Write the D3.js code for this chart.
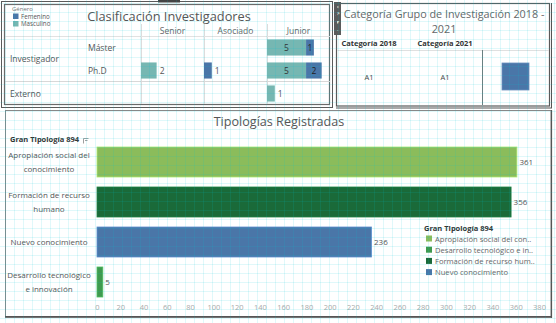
<!DOCTYPE html>
<html><head><meta charset="utf-8">
<script src="https://cdn.jsdelivr.net/npm/d3@7/dist/d3.min.js"></script>
<style>
html,body{margin:0;padding:0;background:#fff;}
svg{display:block;font-family:"Open Sans",sans-serif;}
</style></head>
<body><svg id="c" width="556" height="323"></svg>
<script>
// ---------- DATA ----------
const clasColumns = ["Senior", "Asociado", "Junior"];
const clasRowGroups = ["Investigador", "Investigador", "Externo"];
const clasRowSubs = ["Máster", "Ph.D", ""];
const masculino = [[0, 0, 5], [2, 0, 5], [0, 0, 1]];
const femenino  = [[0, 0, 1], [0, 1, 2], [0, 0, 0]];
const generoLabels = ["Femenino", "Masculino"];

const catHeaders = ["Categoría 2018", "Categoría 2021"];
const catValues = ["A1", "A1"];

const tipCategories = ["Apropiación social del conocimiento", "Formación de recurso humano", "Nuevo conocimiento", "Desarrollo tecnológico e innovación"];
const tipLabelLines = [["Apropiación social del", "conocimiento"], ["Formación de recurso", "humano"], ["Nuevo conocimiento"], ["Desarrollo tecnológico", "e innovación"]];
const tipValues = [361, 356, 236, 5];
const tipTicks = d3.range(0, 381, 20);
const legendNames = ["Apropiación social del con..", "Desarrollo tecnológico e in..", "Formación de recurso hum..", "Nuevo conocimiento"];
const legendKeys = ["Apropiación social del conocimiento", "Desarrollo tecnológico e innovación", "Formación de recurso humano", "Nuevo conocimiento"];

// ---------- STYLE ----------
const C_FEM = "#4a76a8", C_MAS = "#76b7b2";
const tipColor = d3.scaleOrdinal()
  .domain(["Apropiación social del conocimiento", "Desarrollo tecnológico e innovación", "Formación de recurso humano", "Nuevo conocimiento"])
  .range(["#8bbc5b", "#3f9a4f", "#1a6a39", "#4a76a8"]);

const svg = d3.select("#c");
const W = 556, H = 323;
svg.append("rect").attr("width", W).attr("height", H).attr("fill", "#fff");

// ---------- PANEL 1: Clasificación Investigadores ----------
const p1 = svg.append("g");
p1.append("rect").attr("x", 1.5).attr("y", 1.5).attr("width", 331).attr("height", 106).attr("fill", "none").attr("stroke", "#5a5a5a").attr("stroke-width", 1);
p1.append("rect").attr("x", 4.5).attr("y", 4.5).attr("width", 325).attr("height", 100).attr("fill", "none").attr("stroke", "#6a6a6a").attr("stroke-width", 1.2);
p1.append("rect").attr("x", 158).attr("y", 0).attr("width", 22).attr("height", 2.5).attr("fill", "#444");

// legend
p1.append("text").attr("x", 12).attr("y", 11).attr("font-size", 6).attr("fill", "#777").text("Género");
[C_FEM, C_MAS].forEach((c, i) => {
  p1.append("rect").attr("x", 13).attr("y", 13.5 + i * 7.5).attr("width", 5.5).attr("height", 5.5).attr("fill", c);
  p1.append("text").attr("x", 21).attr("y", 18.5 + i * 7.5).attr("font-size", 6.2).attr("fill", "#555").text(generoLabels[i]);
});
p1.append("text").attr("x", 169).attr("y", 21).attr("text-anchor", "middle").attr("font-size", 12.8).attr("fill", "#555").text("Clasificación Investigadores");

const colBand = d3.scaleBand().domain(clasColumns).range([141, 330]);
const rowBand = d3.scaleBand().domain(d3.range(3)).range([36, 105]).paddingInner(0.3).paddingOuter(0.15);
const unitX = d3.scaleLinear().domain([0, 8]).range([0, 62.5]);

clasColumns.forEach(c => {
  p1.append("line").attr("x1", colBand(c) + 0.5).attr("x2", colBand(c) + 0.5).attr("y1", 24).attr("y2", 104).attr("stroke", "#dcdcdc");
});
p1.append("line").attr("x1", 5).attr("x2", 330).attr("y1", 36.5).attr("y2", 36.5).attr("stroke", "#e2e2e2");
p1.append("line").attr("x1", 5).attr("x2", 330).attr("y1", 81.5).attr("y2", 81.5).attr("stroke", "#d8d8d8");

clasColumns.forEach(c => {
  p1.append("text").attr("x", colBand(c) + colBand.bandwidth() / 2).attr("y", 34).attr("text-anchor", "middle").attr("font-size", 8.5).attr("fill", "#666").text(c);
});
const rc = i => rowBand(i) + rowBand.bandwidth() / 2;
p1.append("text").attr("x", 10).attr("y", (rc(0) + rc(1)) / 2 + 3).attr("font-size", 8.5).attr("fill", "#555").text(clasRowGroups[0]);
p1.append("text").attr("x", 10).attr("y", rc(2) + 3).attr("font-size", 8.5).attr("fill", "#555").text(clasRowGroups[2]);
[0, 1].forEach(i => p1.append("text").attr("x", 88).attr("y", rc(i) + 3).attr("font-size", 8.5).attr("fill", "#555").text(clasRowSubs[i]));

d3.range(3).forEach(r => {
  clasColumns.forEach((c, ci) => {
    const m = masculino[r][ci], f = femenino[r][ci];
    const x0 = colBand(c), y = rowBand(r), h = rowBand.bandwidth();
    if (m > 0) {
      p1.append("rect").attr("x", x0).attr("y", y).attr("width", unitX(m)).attr("height", h).attr("fill", C_MAS);
    }
    if (f > 0) {
      p1.append("rect").attr("x", x0 + unitX(m)).attr("y", y).attr("width", unitX(f)).attr("height", h).attr("fill", C_FEM);
    }
    const total = m + f;
    if (total === 0) return;
    if (m >= 5) {
      p1.append("text").attr("x", x0 + unitX(m) / 2).attr("y", y + h / 2 + 3).attr("text-anchor", "middle").attr("font-size", 8.5).attr("fill", "#333").text(m);
      if (f > 0) p1.append("text").attr("x", x0 + unitX(m) + unitX(f) / 2).attr("y", y + h / 2 + 3).attr("text-anchor", "middle").attr("font-size", 8.5).attr("fill", "#222").text(f);
    } else {
      p1.append("text").attr("x", x0 + unitX(total) + 3).attr("y", y + h / 2 + 3).attr("font-size", 8.5).attr("fill", "#555").text(total);
    }
  });
});

// toolbar
const tb = svg.append("g");
tb.append("rect").attr("x", 334).attr("y", 2).attr("width", 7).attr("height", 33).attr("fill", "#5b5b5b");
["×", "↗", "▾", "-"].forEach((g, i) => {
  tb.append("text").attr("x", 337.5).attr("y", 8.5 + i * 7.8).attr("text-anchor", "middle").attr("font-size", 5.5).attr("fill", "#eee").text(g);
});

// ---------- PANEL 2: Categoría ----------
const p2 = svg.append("g");
p2.append("rect").attr("x", 336.5).attr("y", 3.5).attr("width", 213).attr("height", 102.5).attr("fill", "none").attr("stroke", "#5a5a5a").attr("stroke-width", 1.2);
p2.append("line").attr("x1", 336).attr("x2", 552).attr("y1", 108).attr("y2", 108).attr("stroke", "#555").attr("stroke-width", 1.2);
p2.append("line").attr("x1", 551.5).attr("x2", 551.5).attr("y1", 3).attr("y2", 108).attr("stroke", "#555").attr("stroke-width", 1);
p2.append("text").attr("x", 444).attr("y", 18).attr("text-anchor", "middle").attr("font-size", 10.8).attr("fill", "#666").text("Categoría Grupo de Investigación 2018 -");
p2.append("text").attr("x", 444).attr("y", 33).attr("text-anchor", "middle").attr("font-size", 10.8).attr("fill", "#666").text("2021");
const catX = d3.scalePoint().domain(catHeaders).range([369, 445]);
catHeaders.forEach((h, i) => {
  p2.append("text").attr("x", catX(h)).attr("y", 46).attr("text-anchor", "middle").attr("font-size", 7.5).attr("font-weight", "bold").attr("fill", "#333").text(h);
  p2.append("text").attr("x", catX(h)).attr("y", 80).attr("text-anchor", "middle").attr("font-size", 7.5).attr("fill", "#444").text(catValues[i]);
});
p2.append("line").attr("x1", 337).attr("x2", 549).attr("y1", 50.5).attr("y2", 50.5).attr("stroke", "#e0e0e0");
p2.append("line").attr("x1", 482.5).attr("x2", 482.5).attr("y1", 50).attr("y2", 105).attr("stroke", "#777");
p2.append("rect").attr("x", 502).attr("y", 63).attr("width", 27).attr("height", 27).attr("fill", C_FEM).attr("stroke", "#6b91bd").attr("stroke-width", 0.8);

// ---------- PANEL 3: Tipologías ----------
const p3 = svg.append("g");
p3.append("rect").attr("x", 5.5).attr("y", 110.5).attr("width", 545.5).attr("height", 206).attr("fill", "none").attr("stroke", "#888").attr("stroke-width", 1);
p3.append("line").attr("x1", 5).attr("x2", 552).attr("y1", 317).attr("y2", 317).attr("stroke", "#444").attr("stroke-width", 1.5);
p3.append("line").attr("x1", 551.5).attr("x2", 551.5).attr("y1", 110).attr("y2", 318).attr("stroke", "#555").attr("stroke-width", 1.2);
p3.append("text").attr("x", 279).attr("y", 126).attr("text-anchor", "middle").attr("font-size", 12.6).attr("fill", "#555").text("Tipologías Registradas");
p3.append("text").attr("x", 10).attr("y", 142).attr("font-size", 7.5).attr("font-weight", "bold").attr("fill", "#333").text("Gran Tipología 894");
p3.append("path").attr("d", "M83.5 138.5h5M83.5 138.5v5M85 140.5h2.5").attr("stroke", "#888").attr("stroke-width", 0.8).attr("fill", "none");

const x = d3.scaleLinear().domain([0, 380]).range([97, 539]);
const y = d3.scaleBand().domain(tipCategories).range([142, 302]).paddingInner(0.25).paddingOuter(0.125);

p3.selectAll("rect.bar").data(tipCategories).join("rect").attr("class", "bar")
  .attr("x", x(0)).attr("y", d => y(d))
  .attr("width", (d, i) => x(tipValues[i]) - x(0)).attr("height", y.bandwidth())
  .attr("fill", d => tipColor(d))
  .attr("stroke", d => d3.color(tipColor(d)).brighter(0.6)).attr("stroke-width", 0.8);
p3.selectAll("text.val").data(tipCategories).join("text").attr("class", "val")
  .attr("x", (d, i) => x(tipValues[i]) + 2.5).attr("y", d => y(d) + y.bandwidth() / 2 + 3)
  .attr("font-size", 8).attr("fill", "#555").text((d, i) => tipValues[i]);
tipCategories.forEach((c, i) => {
  const lines = tipLabelLines[i];
  const cy = y(c) + y.bandwidth() / 2;
  lines.forEach((l, j) => {
    p3.append("text").attr("x", 49).attr("y", cy + 3 + (j - (lines.length - 1) / 2) * 13.5)
      .attr("text-anchor", "middle").attr("font-size", 8).attr("fill", "#555").text(l);
  });
});
const xAxis = p3.append("g").attr("transform", "translate(0,305)")
  .call(d3.axisBottom(x).tickValues(tipTicks).tickSize(0).tickPadding(0));
xAxis.select(".domain").remove();
xAxis.selectAll("text").attr("font-size", 7.5).attr("fill", "#aaa").attr("font-family", "Open Sans, sans-serif").attr("dy", "0.71em");

// legend
const lg = p3.append("g");
lg.append("text").attr("x", 424).attr("y", 231).attr("font-size", 7.5).attr("font-weight", "bold").attr("fill", "#333").text("Gran Tipología 894");
legendKeys.forEach((k, i) => {
  lg.append("rect").attr("x", 426).attr("y", 235.5 + i * 11.2).attr("width", 6).attr("height", 6).attr("fill", tipColor(k));
  lg.append("text").attr("x", 435).attr("y", 241.5 + i * 11.2).attr("font-size", 7.6).attr("fill", "#666").text(legendNames[i]);
});

// ---------- dashboard grid overlay ----------
const grid = svg.append("g").attr("stroke", "#00c4d8").attr("stroke-opacity", 0.12).attr("stroke-width", 1);
d3.range(5, W, 9).forEach(v => grid.append("line").attr("x1", v + 0.5).attr("x2", v + 0.5).attr("y1", 0).attr("y2", H));
d3.range(3, H, 9).forEach(v => grid.append("line").attr("y1", v + 0.5).attr("y2", v + 0.5).attr("x1", 0).attr("x2", W));
</script></body></html>
